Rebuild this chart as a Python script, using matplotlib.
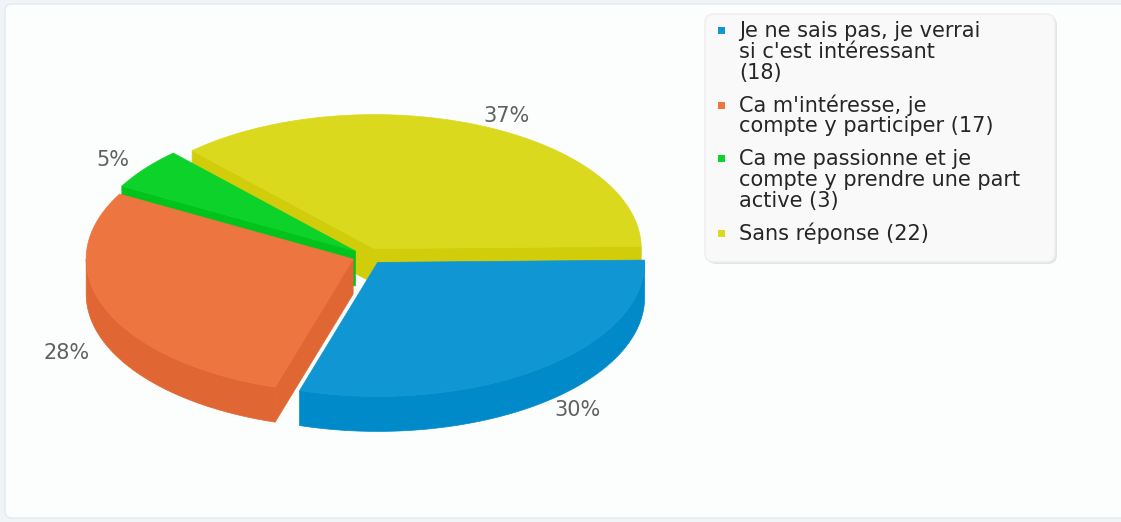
import numpy as np
import matplotlib
matplotlib.use("Agg")
import matplotlib.pyplot as plt
from matplotlib.patches import Polygon, FancyBboxPatch

# ---------------- data ----------------
categories = [
    "Je ne sais pas, je verrai\nsi c'est intéressant",
    "Ca m'intéresse, je\ncompte y participer",
    "Ca me passionne et je\ncompte y prendre une part\nactive",
    "Sans réponse",
]
count_sep = ["\n", " ", " ", " "]
values = [18, 17, 3, 22]
top_colors = ["#0F96D3", "#EC7540", "#0CD22A", "#DAD91E"]
side_colors = ["#008AC9", "#E06733", "#00C41B", "#D1CD0A"]

# ---------------- figure ----------------
W, H = 1121, 522
fig = plt.figure(figsize=(W / 100, H / 100), dpi=100)
fig.patch.set_facecolor("#F1F4F7")
ax = fig.add_axes([0, 0, 1, 1])
ax.set_xlim(0, W)
ax.set_ylim(H, 0)
ax.axis("off")

ax.add_patch(FancyBboxPatch((5, 4), W + 20, H - 8,
                            boxstyle="round,pad=0,rounding_size=7",
                            facecolor="#FCFEFD", edgecolor="#E3E9EF", lw=1.0, zorder=0))

# ---------------- 3D pie geometry ----------------
cx, cy = 368, 256
rx, ry = 267, 134
T = 35
explode = 16
start = -1.0

total = float(sum(values))
spans = [v / total * 360.0 for v in values]
bounds = np.concatenate([[start], start + np.cumsum(spans)])


def pt(ox, oy, th, dz=0.0):
    r = np.radians(th)
    return ox + rx * np.cos(r), oy + ry * np.sin(r) + dz


slices = []
for i, v in enumerate(values):
    a1, a2 = bounds[i], bounds[i + 1]
    mid = (a1 + a2) / 2
    ox = cx + explode * np.cos(np.radians(mid))
    oy = cy + explode * (ry / rx) * np.sin(np.radians(mid))
    slices.append((i, a1, a2, mid, ox, oy))

# draw back to front
order = sorted(slices, key=lambda s: np.sin(np.radians(s[3])))
z = 2
for (i, a1, a2, mid, ox, oy) in order:
    top = top_colors[i]
    side = side_colors[i]
    faces = []
    if np.cos(np.radians(a1)) < 0:
        faces.append(a1)
    if np.cos(np.radians(a2)) > 0:
        faces.append(a2)
    for th in faces:
        ex, ey = pt(ox, oy, th)
        quad = [(ox, oy), (ex, ey), (ex, ey + T), (ox, oy + T)]
        ax.add_patch(Polygon(quad, closed=True, facecolor=side, edgecolor=side,
                             lw=0.5, zorder=z))
    for lo, hi in [(0, 180), (360, 540), (-360, -180)]:
        s0, s1 = max(a1, lo), min(a2, hi)
        if s1 > s0:
            ths = np.linspace(s0, s1, 80)
            upper = [pt(ox, oy, t) for t in ths]
            lower = [pt(ox, oy, t, T) for t in ths[::-1]]
            ax.add_patch(Polygon(upper + lower, closed=True, facecolor=side,
                                 edgecolor=side, lw=0.5, zorder=z))
    ths = np.linspace(a1, a2, 150)
    poly = [(ox, oy)] + [pt(ox, oy, t) for t in ths]
    ax.add_patch(Polygon(poly, closed=True, facecolor=top, edgecolor=top,
                         lw=0.5, zorder=z + 0.5))
    z += 1

# percentage labels (front labels sit below the pie wall)
Rx_l, lx = 334, 8
Ry_front, ly_front = 135, 46
Ry_back, ly_back = 144, -7
for (i, a1, a2, mid, ox, oy) in slices:
    pct = round(values[i] / total * 100)
    r = np.radians(mid)
    s = np.sin(r)
    if s > 0:
        yl = cy + Ry_front * s + ly_front
    else:
        yl = cy + Ry_back * s + ly_back
    ax.text(cx + Rx_l * np.cos(r) + lx, yl, f"{pct}%",
            ha="center", va="center", fontsize=15, color="#606060", zorder=20)

# ---------------- legend ----------------
ax.add_patch(FancyBboxPatch((707, 16), 350, 248,
                            boxstyle="round,pad=0,rounding_size=9",
                            facecolor="#E4E4E4", edgecolor="none", zorder=9))
ax.add_patch(FancyBboxPatch((705, 14), 350, 248,
                            boxstyle="round,pad=0,rounding_size=9",
                            facecolor="#F9F9F9", edgecolor="#EDEDED", lw=1, zorder=10))

LH = 21
gap = 11.5
y = 31
for i, v in enumerate(values):
    label = f"{categories[i]}{count_sep[i]}({v})"
    nlines = label.count("\n") + 1
    ax.add_patch(plt.Rectangle((718, y - 4), 7, 7, facecolor=top_colors[i],
                               edgecolor="none", zorder=11))
    for k, line in enumerate(label.split("\n")):
        ax.text(739, y + k * LH, line, ha="left", va="center", fontsize=15,
                color="#262626", zorder=11)
    y += nlines * LH + gap

fig.savefig("out.png", dpi=100, facecolor=fig.get_facecolor())
